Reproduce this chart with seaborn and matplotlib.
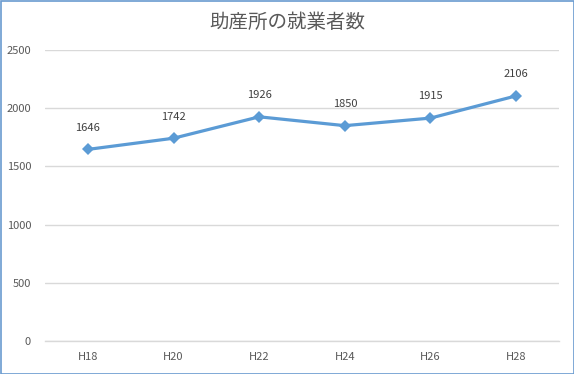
import matplotlib
matplotlib.use("Agg")
import matplotlib.pyplot as plt
import seaborn as sns
import pandas as pd
from matplotlib.patches import Rectangle

years = ["H18", "H20", "H22", "H24", "H26", "H28"]
workers = [1646, 1742, 1926, 1850, 1915, 2106]
yticks = [0, 500, 1000, 1500, 2000, 2500]
title = "助産所の就業者数"

sns.set_theme(style="white")
plt.rcParams['font.family'] = ['Noto Sans CJK JP', 'DejaVu Sans']

df = pd.DataFrame({"year": years, "workers": workers})

fig = plt.figure(figsize=(5.74, 3.74), dpi=100)
ax = fig.add_axes([45/574, 33/374, 514/574, 291/374])

sns.lineplot(data=df, x="year", y="workers", ax=ax, color="#5B9BD5",
             linewidth=2.3, marker="D", markersize=6, markeredgewidth=0,
             sort=False)

ax.set_xlim(-0.5, len(years) - 0.5)
ax.set_ylim(0, 2500)
ax.set_yticks(yticks)
ax.yaxis.grid(True, color="#D9D9D9", linewidth=1)
ax.set_axisbelow(True)
for name, s in ax.spines.items():
    s.set_visible(name == "bottom")
ax.spines["bottom"].set_color("#D9D9D9")
ax.spines["bottom"].set_linewidth(1)
ax.set_xlabel("")
ax.set_ylabel("")
ax.tick_params(axis="both", length=0, labelsize=8, colors="#595959", pad=10)
ax.tick_params(axis="x", pad=8)

for i, v in enumerate(workers):
    ax.annotate(str(v), (i, v), xytext=(0, 12), textcoords="offset points",
                ha="center", va="bottom", fontsize=8, color="#404040")

fig.text(0.5, 1 - 22/374, title, ha="center", va="center", fontsize=14,
         color="#595959")

fig.patches.append(Rectangle((0.5/574, 0.5/374), 1 - 1/574, 1 - 1/374,
                             transform=fig.transFigure, fill=False,
                             edgecolor="#6A9BD0", linewidth=1.2))

fig.savefig("out.png", dpi=100)
